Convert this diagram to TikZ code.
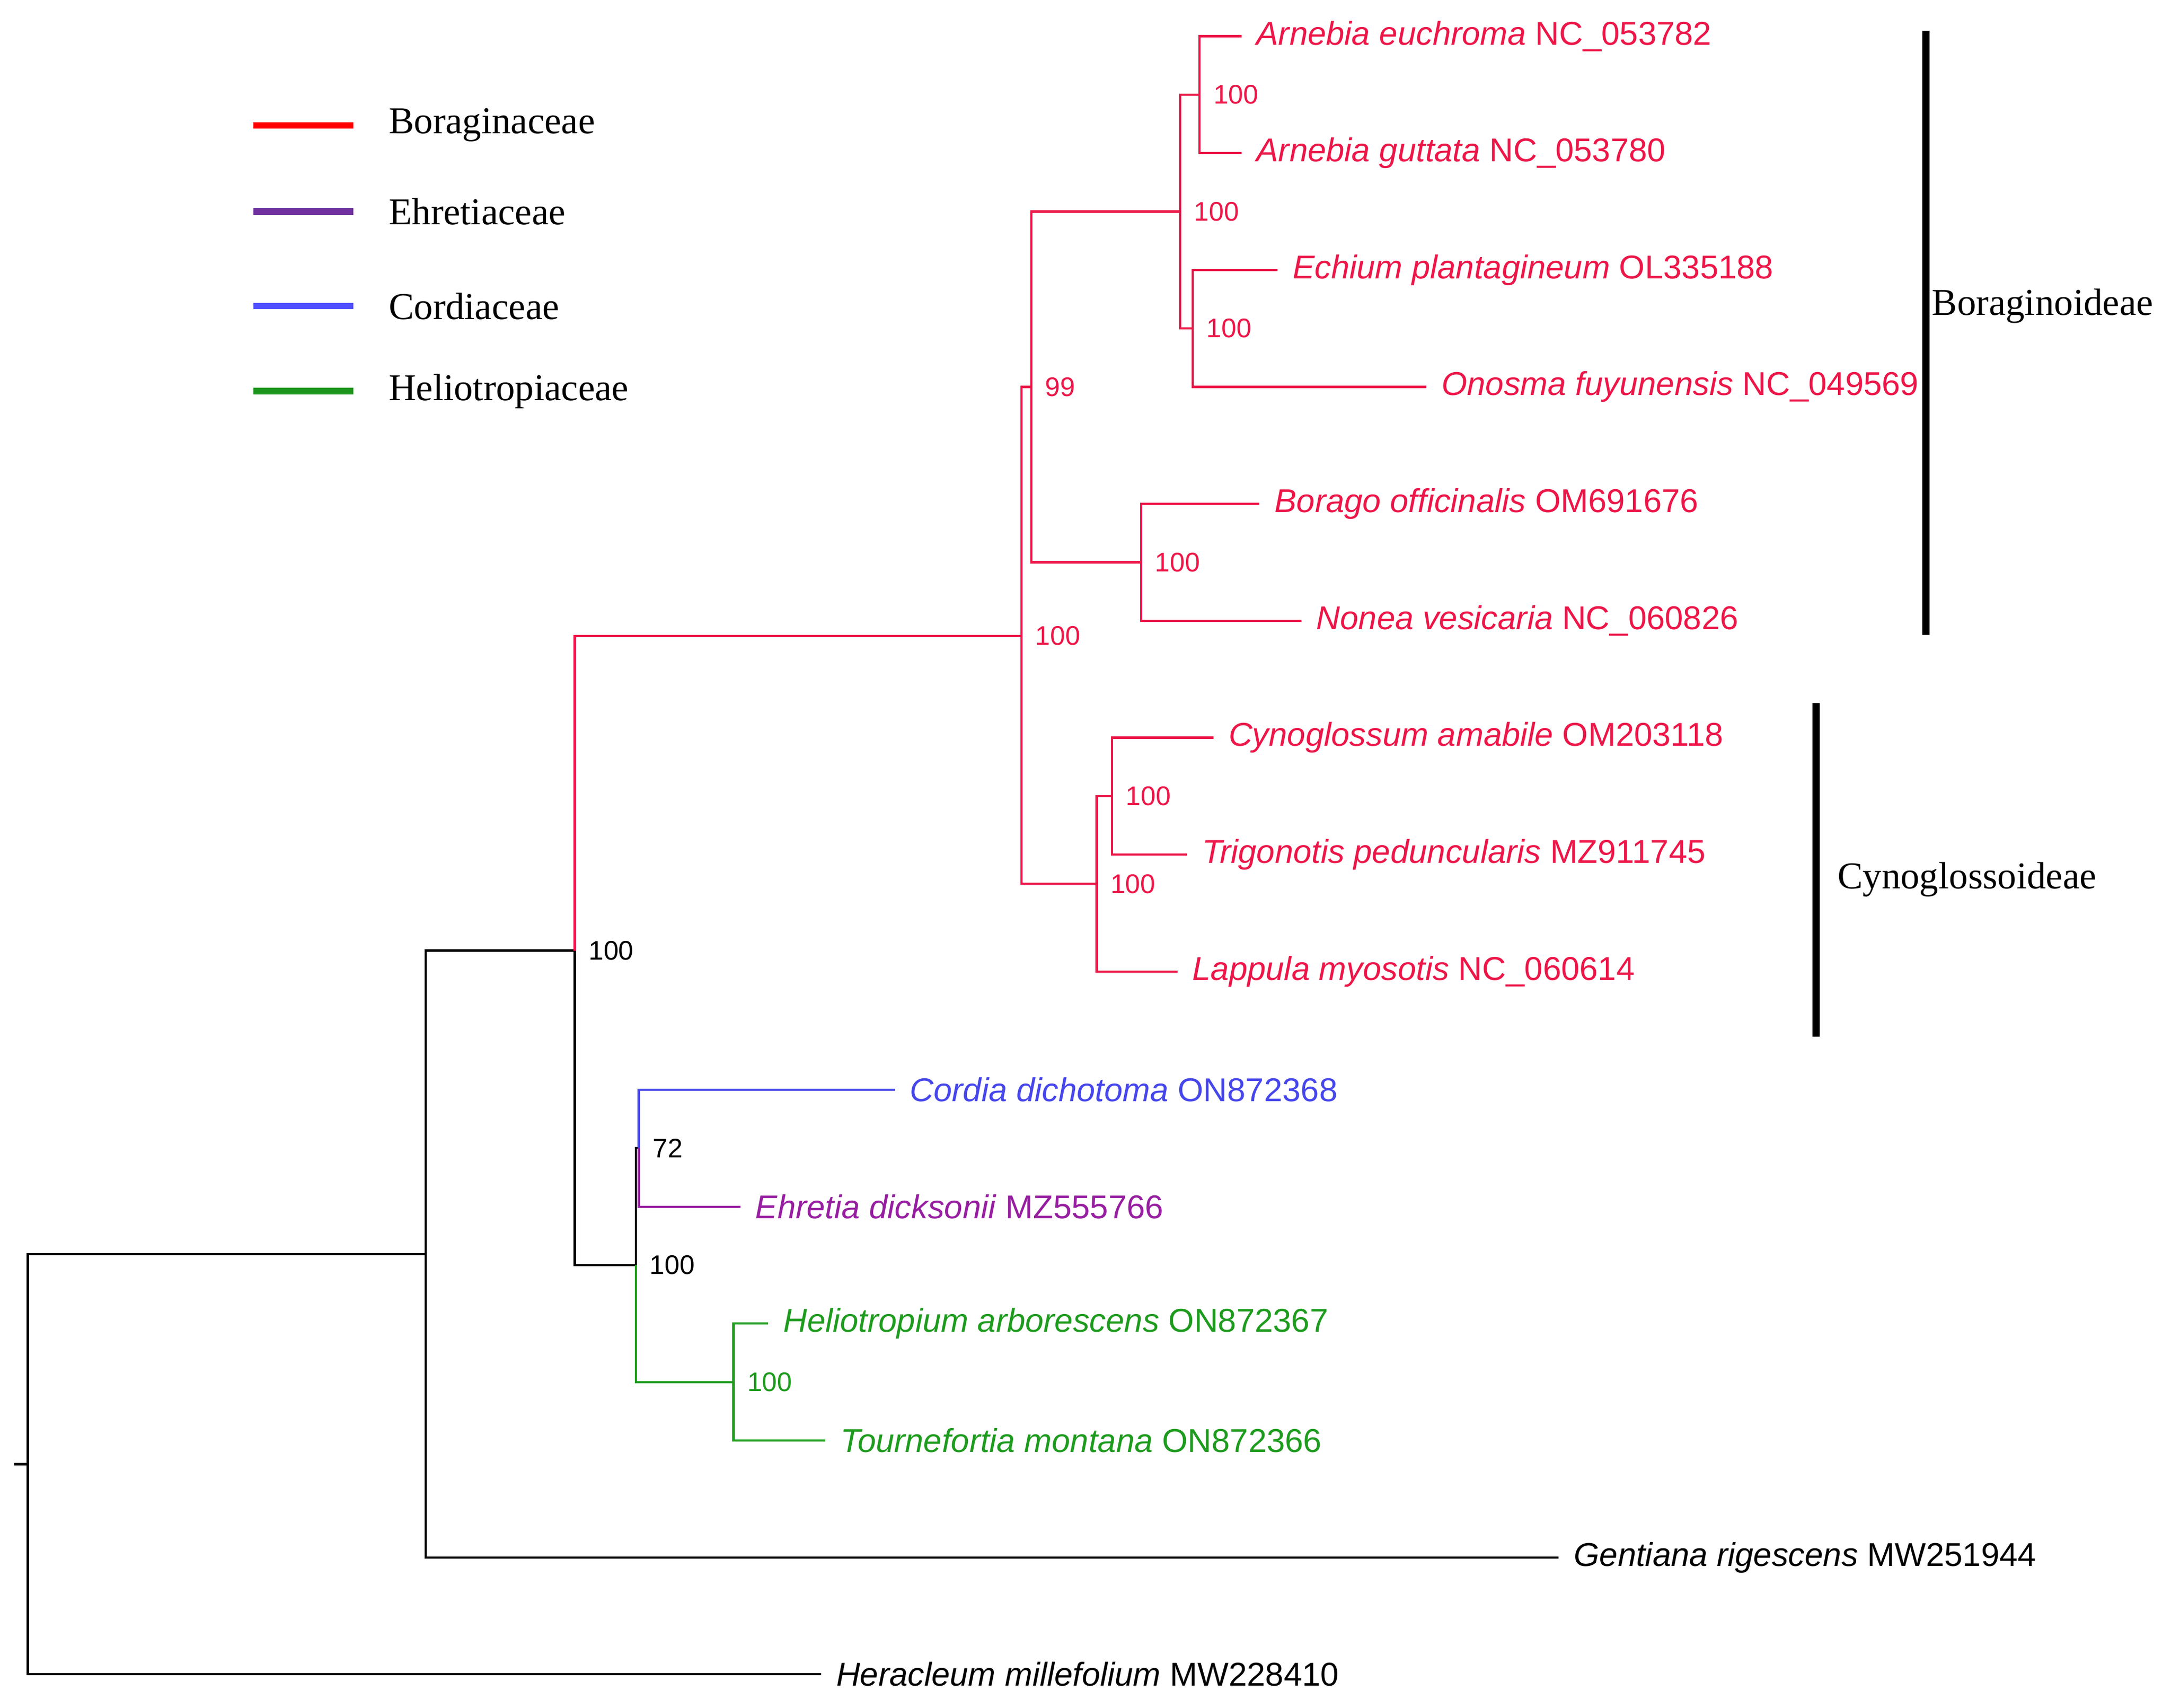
\documentclass[tikz,border=0pt]{standalone}
\usepackage{fontspec}
\setmainfont{Liberation Serif}
\newfontfamily\arial{Liberation Sans}
\definecolor{bor}{RGB}{236,22,72}
\definecolor{ehr}{RGB}{150,30,160}
\definecolor{cor}{RGB}{70,70,235}
\definecolor{hel}{RGB}{30,155,30}
\definecolor{legred}{RGB}{255,0,0}
\definecolor{legpur}{RGB}{112,48,160}
\definecolor{legblu}{RGB}{80,80,255}
\definecolor{leggrn}{RGB}{30,150,30}
\begin{document}
\begin{tikzpicture}[x=0.02cm,y=-0.02cm,
  br/.style={line width=0.9pt},
  leaf/.style={anchor=west,inner xsep=6pt,inner ysep=0pt,font=\arial\fontsize{13.5}{15}\selectfont},
  bs/.style={anchor=west,inner sep=0pt,xshift=5.5pt,font=\arial\fontsize{11}{13}\selectfont},
  leg/.style={anchor=west,inner sep=0pt,font=\fontsize{15.5}{18}\selectfont},
  legl/.style={line width=2.6pt},
  bar/.style={line width=3pt}]
\useasboundingbox (0,0) rectangle (1560,1227);
% legend
\foreach \y/\c/\t [count=\i] in {90/legred/Boraginaceae,152/legpur/Ehretiaceae,220/legblu/Cordiaceae,281/leggrn/Heliotropiaceae}{
  \coordinate (ls\i) at (182,\y);
  \node[leg] (lt\i) at (279,\y) {\t};
  \draw[legl,\c] (ls\i) -- ++(72,0);
}
% internal nodes
\coordinate (R) at (20,1052);
\coordinate (Rs) at (10,1052);
\coordinate (A) at (306,901);
\coordinate (B) at (413,683);
\coordinate (C) at (734,457);
\coordinate (D) at (741,278);
\coordinate (E) at (848,152);
\coordinate (F) at (862,68);
\coordinate (G) at (857,236);
\coordinate (H) at (820,404);
\coordinate (I) at (788,635);
\coordinate (J) at (799,572);
\coordinate (K) at (457,909);
\coordinate (L) at (459,825);
\coordinate (M) at (527,993);
% leaves
\node[leaf,text=bor] (l1) at (892,26) {\textit{Arnebia euchroma} NC\_053782};
\node[leaf,text=bor] (l2) at (892,110) {\textit{Arnebia guttata} NC\_053780};
\node[leaf,text=bor] (l3) at (918,194) {\textit{Echium plantagineum} OL335188};
\node[leaf,text=bor] (l4) at (1025,278) {\textit{Onosma fuyunensis} NC\_049569};
\node[leaf,text=bor] (l5) at (905,362) {\textit{Borago officinalis} OM691676};
\node[leaf,text=bor] (l6) at (935,446) {\textit{Nonea vesicaria} NC\_060826};
\node[leaf,text=bor] (l7) at (872,530) {\textit{Cynoglossum amabile} OM203118};
\node[leaf,text=bor] (l8) at (853,614) {\textit{Trigonotis peduncularis} MZ911745};
\node[leaf,text=bor] (l9) at (846,698) {\textit{Lappula myosotis} NC\_060614};
\node[leaf,text=cor] (l10) at (643,783) {\textit{Cordia dichotoma} ON872368};
\node[leaf,text=ehr] (l11) at (532,867) {\textit{Ehretia dicksonii} MZ555766};
\node[leaf,text=hel] (l12) at (552,951) {\textit{Heliotropium arborescens} ON872367};
\node[leaf,text=hel] (l13) at (593,1035) {\textit{Tournefortia montana} ON872366};
\node[leaf] (l14) at (1120,1119) {\textit{Gentiana rigescens} MW251944};
\node[leaf] (l15) at (590,1203) {\textit{Heracleum millefolium} MW228410};
% branches
\draw[br] (Rs) -- (R);
\draw[br] (R) |- (A);
\draw[br] (R) |- (l15.west);
\draw[br] (A) |- (B);
\draw[br] (A) |- (l14.west);
\draw[br,bor] (B) |- (C);
\draw[br] (B) |- (K);
\draw[br,bor] (C) |- (D);
\draw[br,bor] (C) |- (I);
\draw[br,bor] (D) |- (E);
\draw[br,bor] (D) |- (H);
\draw[br,bor] (E) |- (F);
\draw[br,bor] (E) |- (G);
\draw[br,bor] (F) |- (l1.west);
\draw[br,bor] (F) |- (l2.west);
\draw[br,bor] (G) |- (l3.west);
\draw[br,bor] (G) |- (l4.west);
\draw[br,bor] (H) |- (l5.west);
\draw[br,bor] (H) |- (l6.west);
\draw[br,bor] (I) |- (J);
\draw[br,bor] (I) |- (l9.west);
\draw[br,bor] (J) |- (l7.west);
\draw[br,bor] (J) |- (l8.west);
\draw[br] (K) |- (L);
\draw[br,hel] (K) |- (M);
\draw[br,cor] (L) |- (l10.west);
\draw[br,ehr] (L) |- (l11.west);
\draw[br,hel] (M) |- (l12.west);
\draw[br,hel] (M) |- (l13.west);
% bootstrap
\node[bs] (bB) at (B) {100};
\node[bs,text=bor] (bC) at (C) {100};
\node[bs,text=bor] (bD) at (D) {99};
\node[bs,text=bor] (bE) at (E) {100};
\node[bs,text=bor] (bF) at (F) {100};
\node[bs,text=bor] (bG) at (G) {100};
\node[bs,text=bor] (bH) at (H) {100};
\node[bs,text=bor] (bI) at (I) {100};
\node[bs,text=bor] (bJ) at (J) {100};
\node[bs] (bK) at (K) {100};
\node[bs] (bL) at (L) {72};
\node[bs,text=hel] (bM) at (M) {100};
% clade bars
\coordinate (b1t) at (1384,22); \coordinate (b1b) at (1384,456);
\draw[bar] (b1t) -- (b1b);
\node[leg] (c1) at (1388,220) {Boraginoideae};
\coordinate (b2t) at (1305,505); \coordinate (b2b) at (1305,745);
\draw[bar] (b2t) -- (b2b);
\node[leg] (c2) at (1320,632) {Cynoglossoideae};
\end{tikzpicture}
\end{document}
